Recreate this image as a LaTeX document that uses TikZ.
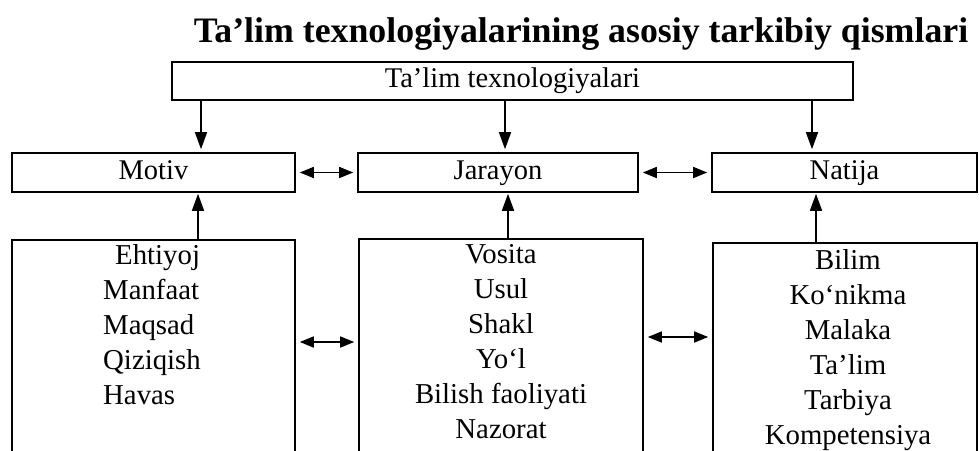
\documentclass[tikz,border=0pt]{standalone}
\usepackage{fontspec}
\setmainfont{Liberation Serif}
\usetikzlibrary{arrows.meta}
\begin{document}
\begin{tikzpicture}[x=1pt,y=-1pt,
  box/.style={draw, line width=1.6pt, inner sep=0pt, text height=19pt, text depth=6pt, font=\fontsize{28.5}{34}\selectfont},
  lst/.style={inner sep=0pt, font=\fontsize{28.8}{35}\selectfont},
  arr/.style={line width=1.6pt, -{Triangle[length=17pt,width=12pt]}, shorten >=3pt},
  uarr/.style={line width=1.6pt, -{Triangle[length=17pt,width=12pt]}, shorten >=1pt},
  darr/.style={line width=1.6pt, {Triangle[length=14pt,width=11pt]}-{Triangle[length=14pt,width=11pt]}, shorten <=4pt, shorten >=4pt}]
\useasboundingbox (0,0) rectangle (979,450);
\node[font=\fontsize{35.8}{40}\selectfont\bfseries, anchor=base, inner sep=0pt] (title) at (581,42) {Ta’lim texnologiyalarining asosiy tarkibiy qismlari};
\node[box, minimum width=681pt, minimum height=38pt] (top) at (512.5,81) {Ta’lim texnologiyalari};
\node[box, minimum width=283pt, minimum height=39pt] (motiv) at (153.5,172.5) {Motiv};
\node[box, minimum width=280pt, minimum height=39pt] (jarayon) at (498,172.5) {Jarayon};
\node[box, minimum width=265pt, minimum height=39pt] (natija) at (844.5,172.5) {Natija};
\node[box, minimum width=283pt, minimum height=220pt] (b1) at (153.5,350) {};
\node[box, minimum width=284pt, minimum height=221pt] (b2) at (501,349.5) {};
\node[box, minimum width=264pt, minimum height=217pt] (b3) at (845,351.5) {};
\node[lst, anchor=north west, align=left] (l1) at (103,244) {\hspace{12pt}Ehtiyoj\\Manfaat\\Maqsad\\Qiziqish\\Havas};
\node[lst, anchor=north, align=center] (l2) at (501,244) {Vosita\\Usul\\Shakl\\Yo‘l\\Bilish faoliyati\\Nazorat};
\node[lst, anchor=north, align=center] (l3) at (848,249) {Bilim\\Ko‘nikma\\Malaka\\Ta’lim\\Tarbiya\\Kompetensiya};
\coordinate (d1) at (201,0);
\coordinate (d2) at (505,0);
\coordinate (d3) at (812,0);
\coordinate (u1) at (198,0);
\coordinate (u2) at (508,0);
\coordinate (u3) at (816,0);
\coordinate (h1) at (0,342);
\coordinate (h2) at (0,337);
\draw[arr] (top.south -| d1) -- (motiv.north -| d1);
\draw[arr] (top.south -| d2) -- (jarayon.north -| d2);
\draw[arr] (top.south -| d3) -- (natija.north -| d3);
\draw[uarr] (b1.north -| u1) -- (motiv.south -| u1);
\draw[uarr] (b2.north -| u2) -- (jarayon.south -| u2);
\draw[uarr] (b3.north -| u3) -- (natija.south -| u3);
\draw[darr] (motiv.east) -- (jarayon.west);
\draw[darr] (jarayon.east) -- (natija.west);
\draw[darr] (b1.east |- h1) -- (b2.west |- h1);
\draw[darr] (b2.east |- h2) -- (b3.west |- h2);
\end{tikzpicture}
\end{document}
